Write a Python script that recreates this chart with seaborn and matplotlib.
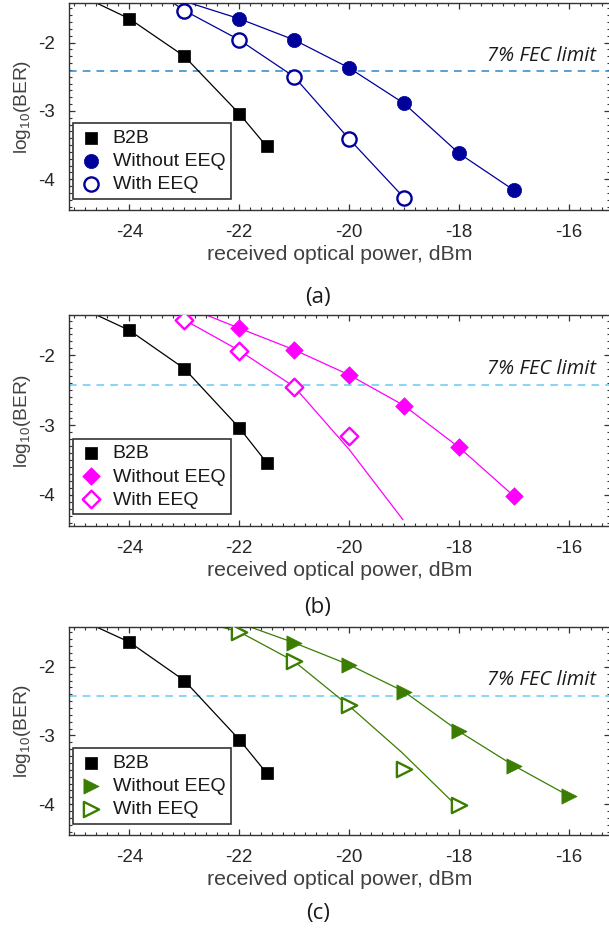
import numpy as np
import matplotlib
matplotlib.use('Agg')
import matplotlib.pyplot as plt
import seaborn as sns
from matplotlib.ticker import MultipleLocator

sns.set_style('ticks')
plt.rcParams['font.family'] = ['Liberation Sans', 'DejaVu Sans']
plt.rcParams['axes.unicode_minus'] = False
plt.rcParams['mathtext.fontset'] = 'custom'
plt.rcParams['mathtext.rm'] = 'Liberation Sans'

FEC = -2.42

# ---- B2B (same in all three panels) ----
b2b_x = [-24, -23, -22, -21.5]
b2b_y_a = [-1.65, -2.20, -3.04, -3.52]
b2b_y_b = [-1.64, -2.19, -3.04, -3.54]
b2b_y_c = [-1.64, -2.20, -3.06, -3.55]
b2b_fit_x = [-24.6, -24, -23, -22, -21.5]
b2b_fit_y_a = [-1.42, -1.65, -2.20, -3.04, -3.52]
b2b_fit_y_b = [-1.42, -1.64, -2.19, -3.04, -3.54]
b2b_fit_y_c = [-1.42, -1.64, -2.20, -3.06, -3.55]

# ---- panel (a): circles ----
a_wo_x = [-22, -21, -20, -19, -18, -17]
a_wo_y = [-1.65, -1.96, -2.37, -2.89, -3.62, -4.16]
a_wo_fit_x = [-22.9, -22, -21, -20, -19, -18, -17]
a_wo_fit_y = [-1.42, -1.65, -1.96, -2.37, -2.89, -3.62, -4.16]
a_w_x = [-23, -22, -21, -20, -19]
a_w_y = [-1.53, -1.96, -2.50, -3.41, -4.27]
a_w_fit_x = [-23.2, -23, -22, -21, -20, -19]
a_w_fit_y = [-1.42, -1.53, -1.96, -2.50, -3.41, -4.27]

# ---- panel (b): diamonds ----
b_wo_x = [-22, -21, -20, -19, -18, -17]
b_wo_y = [-1.61, -1.92, -2.28, -2.72, -3.32, -4.02]
b_wo_fit_x = [-22.6, -22, -21, -20, -19, -18, -17]
b_wo_fit_y = [-1.42, -1.61, -1.92, -2.28, -2.72, -3.32, -4.02]
b_w_x = [-23, -22, -21, -20]
b_w_y = [-1.49, -1.93, -2.45, -3.16]
b_w_fit_x = [-23, -22, -21, -20, -19.02]
b_w_fit_y = [-1.49, -1.93, -2.45, -3.35, -4.36]

# ---- panel (c): triangles ----
c_wo_x = [-21, -20, -19, -18, -17, -16]
c_wo_y = [-1.65, -1.97, -2.36, -2.94, -3.44, -3.88]
c_wo_fit_x = [-21.8, -21, -20, -19, -18, -17, -16]
c_wo_fit_y = [-1.42, -1.65, -1.97, -2.36, -2.94, -3.44, -3.88]
c_w_x = [-22, -21, -20, -19, -18]
c_w_y = [-1.49, -1.92, -2.55, -3.49, -4.02]
c_w_fit_x = [-22.33, -22, -21, -20, -19.05, -18.05]
c_w_fit_y = [-1.42, -1.49, -1.92, -2.57, -3.24, -4.02]

NAVY = '#00009a'
MAGENTA = '#ff00ff'
GREEN = '#3a7d00'
FEC_COLORS = ['#2e86c8', '#66ccf2', '#66ccf2']

panels = [
    dict(b2b_y=b2b_y_a, b2b_fit=b2b_fit_y_a, color=NAVY, marker='o', s=105,
         wo=(a_wo_x, a_wo_y, a_wo_fit_x, a_wo_fit_y),
         w=(a_w_x, a_w_y, a_w_fit_x, a_w_fit_y), tag='(a)'),
    dict(b2b_y=b2b_y_b, b2b_fit=b2b_fit_y_b, color=MAGENTA, marker='D', s=80,
         wo=(b_wo_x, b_wo_y, b_wo_fit_x, b_wo_fit_y),
         w=(b_w_x, b_w_y, b_w_fit_x, b_w_fit_y), tag='(b)'),
    dict(b2b_y=b2b_y_c, b2b_fit=b2b_fit_y_c, color=GREEN, marker='>', s=120,
         wo=(c_wo_x, c_wo_y, c_wo_fit_x, c_wo_fit_y),
         w=(c_w_x, c_w_y, c_w_fit_x, c_w_fit_y), tag='(c)'),
]

# axes boxes in pixels: top, bottom
boxes = [(3, 210), (315, 526), (627, 835)]
tag_y = [297, 607, 914]

W, H = 609, 931
fig = plt.figure(figsize=(W / 100, H / 100), dpi=100)

for i, p in enumerate(panels):
    top, bot = boxes[i]
    ax = fig.add_axes([69 / W, 1 - bot / H, (610 - 69) / W, (bot - top) / H])
    c = p['color']

    ax.axhline(FEC, color=FEC_COLORS[i], lw=1.1, ls=(0, (5, 4)), zorder=1)

    sns.lineplot(x=b2b_fit_x, y=p['b2b_fit'], ax=ax, color='black', lw=0.9, sort=False)
    sns.lineplot(x=p['wo'][2], y=p['wo'][3], ax=ax, color=c, lw=0.9, sort=False)
    sns.lineplot(x=p['w'][2], y=p['w'][3], ax=ax, color=c, lw=0.9, sort=False)

    sns.scatterplot(x=b2b_x, y=p['b2b_y'], ax=ax, marker='s', s=75, color='black',
                    edgecolor='black', linewidth=0.5, label='B2B', zorder=5)
    sns.scatterplot(x=p['wo'][0], y=p['wo'][1], ax=ax, marker=p['marker'], s=p['s'],
                    color=c, edgecolor=c, linewidth=0.5, label='Without EEQ', zorder=5)
    sns.scatterplot(x=p['w'][0], y=p['w'][1], ax=ax, marker=p['marker'], s=p['s'],
                    color=c, facecolor='white', edgecolor=c, linewidth=1.7,
                    label='With EEQ', zorder=5)

    ax.set_xlim(-25.1, -15.25)
    ax.set_ylim(-4.45, -1.42)
    ax.set_xticks([-24, -22, -20, -18, -16])
    ax.set_yticks([-4, -3, -2])
    ax.xaxis.set_minor_locator(MultipleLocator(0.2))
    ax.yaxis.set_minor_locator(MultipleLocator(0.1))
    ax.tick_params(which='both', direction='in', top=True, right=True,
                   colors='#333333', labelcolor='#262626', labelsize=13.5)
    ax.tick_params(which='major', length=4, width=0.9)
    ax.tick_params(which='minor', length=2.5, width=0.8)
    ax.tick_params(axis='y', pad=10)
    ax.tick_params(axis='x', pad=10)
    for sp in ax.spines.values():
        sp.set_color('#333333')
        sp.set_linewidth(1.0)

    ax.set_xlabel('received optical power, dBm', fontsize=15.3, color='#404040', labelpad=3)
    ax.set_ylabel('log$_{\\mathrm{10}}$(BER)', fontsize=13.8, color='#404040')
    ax.yaxis.set_label_coords(-0.066, 0.5)

    ax.text(0.975, FEC + 0.08, '7% FEC limit', transform=ax.get_yaxis_transform(),
            ha='right', va='bottom', fontsize=14.5, style='italic',
            family=['Open Sans', 'DejaVu Sans'], color='#1a1a1a')

    leg = ax.legend(loc='lower left', bbox_to_anchor=(0.007, 0.055), fontsize=14,
                    frameon=True, fancybox=False, framealpha=1, borderpad=0.3,
                    labelspacing=0.28, handletextpad=0.45, borderaxespad=0,
                    handlelength=1.3)
    leg.get_frame().set_edgecolor('#333333')
    leg.get_frame().set_linewidth(1.2)
    for t in leg.get_texts():
        t.set_color('#1a1a1a')

    fig.text(318 / W, 1 - tag_y[i] / H, p['tag'], ha='center', va='center',
             fontsize=16, family=['Open Sans', 'DejaVu Sans'], color='#1a1a1a')

fig.savefig('out.png', dpi=100)
